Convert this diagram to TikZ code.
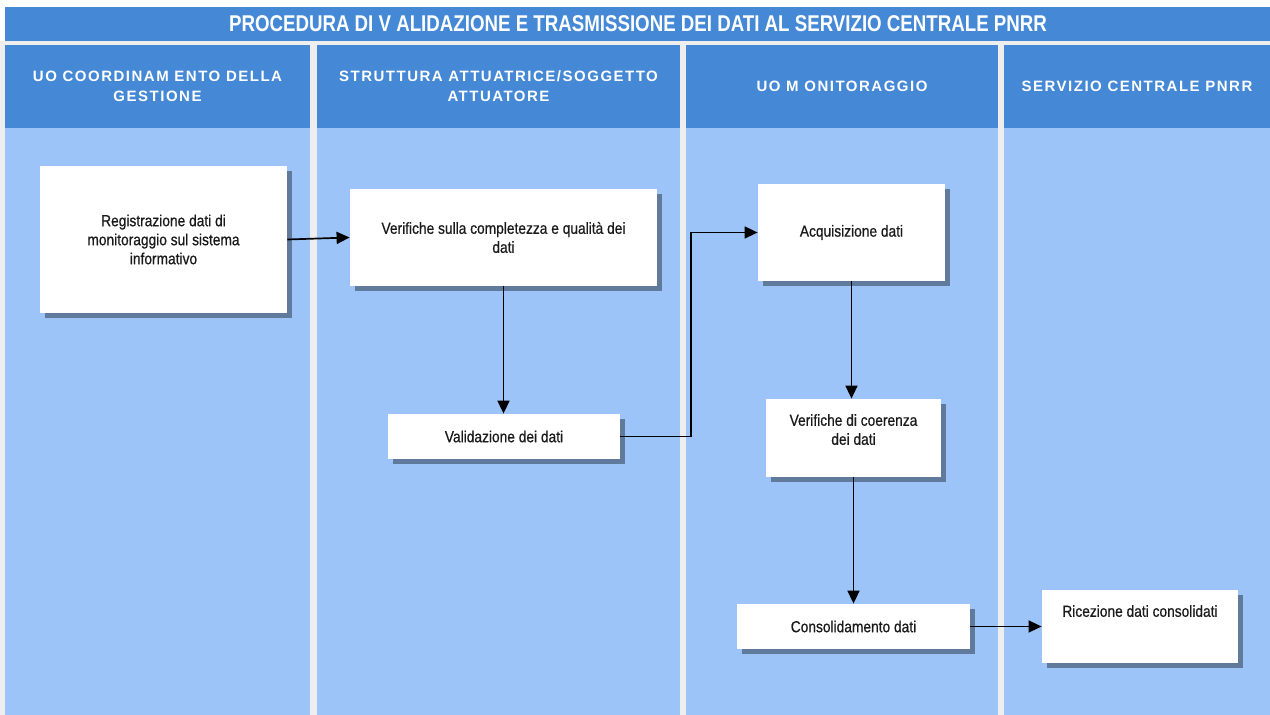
\documentclass[tikz,border=0pt]{standalone}
\usepackage{fontspec}
\setmainfont{Liberation Sans}
\newfontfamily\narrowfont[FakeStretch=0.82]{Liberation Sans}
\newfontfamily\boxfont[FakeStretch=0.86,FakeBold=0.6]{Liberation Sans}
\newfontfamily\spacedfont[LetterSpace=10]{Liberation Sans}
\usetikzlibrary{shadows,arrows.meta}
\definecolor{bandblue}{HTML}{4589D6}
\definecolor{laneblue}{HTML}{9CC4F8}
\definecolor{gapgray}{HTML}{EEEEEE}
\definecolor{shadowgray}{HTML}{5F7A9A}
\definecolor{inkgray}{HTML}{1A1A1A}
\tikzset{
  taskbox/.style={fill=white, text=inkgray, inner sep=3pt, align=center,
    font=\boxfont\fontsize{8}{9.5}\selectfont,
    drop shadow={shadow xshift=2.5pt, shadow yshift=-2.5pt, fill=shadowgray, opacity=1}},
  lanehead/.style={text=white, align=center, font=\spacedfont\bfseries\fontsize{7.5}{10}\selectfont},
  flow/.style={line width=0.85pt, -{Triangle[length=6.5pt,width=6pt]}}
}

\begin{document}
\begin{tikzpicture}[x=0.5pt,y=-0.5pt]
\useasboundingbox (0,0) rectangle (1270,715);
\fill[white] (0,0) rectangle (1270,715);
\fill[gapgray] (0,41) rectangle (1270,715);
\fill[bandblue] (5,7) rectangle (1270,41);
\node[text=white, font=\narrowfont\bfseries\fontsize{11.4}{13}\selectfont] (title) at (638,24)
  {PROCEDURA DI V ALIDAZIONE E TRASMISSIONE DEI DATI AL SERVIZIO CENTRALE PNRR};
\foreach \xa/\xb/\A in {5/310/{UO COORDINAM ENTO DELLA\\GESTIONE},
    317/680/{STRUTTURA ATTUATRICE/SOGGETTO\\ATTUATORE},
    686/998/{UO M ONITORAGGIO},
    1004/1270/{SERVIZIO CENTRALE PNRR}} {
    \fill[laneblue] (\xa,128) rectangle (\xb,715);
    \fill[bandblue] (\xa,45) rectangle (\xb,128);
    \node[lanehead] at ({(\xa+\xb)/2},86.5) {\A};
}
\node[taskbox, minimum width=123.5pt, minimum height=73.5pt] (reg) at (163.5,239.5)
  {Registrazione dati di\\monitoraggio sul sistema\\informativo};
\node[taskbox, minimum width=153.5pt, minimum height=48.5pt] (ver) at (503.5,237.5)
  {Verifiche sulla completezza e qualità dei\\dati};
\node[taskbox, minimum width=116pt, minimum height=22.5pt] (val) at (504,436.5)
  {Validazione dei dati};
\node[taskbox, minimum width=93.5pt, minimum height=48.5pt] (acq) at (851.5,232.5)
  {Acquisizione dati};
\node[taskbox, minimum width=87.5pt, minimum height=39pt, text height=19.9pt, text depth=13.1pt] (coe) at (853.5,438)
  {Verifiche di coerenza\\dei dati};
\node[taskbox, minimum width=116.5pt, minimum height=22.5pt] (con) at (853.5,626.5)
  {Consolidamento dati};
\node[taskbox, minimum width=98pt, minimum height=36.5pt, text height=10.4pt, text depth=20.1pt] (ric) at (1140,626.5)
  {Ricezione dati consolidati};
\coordinate (bend) at (691,436.5);
\draw[flow] (reg.east) -- (ver.west);
\draw[flow] (ver.south) -- (ver.south |- val.north);
\draw[flow] (val.east) -- (bend) |- (acq.west);
\draw[flow] (acq.south) -- (acq.south |- coe.north);
\draw[flow] (coe.south) -- (con.north);
\draw[flow] (con.east) -- (ric.west);
\end{tikzpicture}
\end{document}
